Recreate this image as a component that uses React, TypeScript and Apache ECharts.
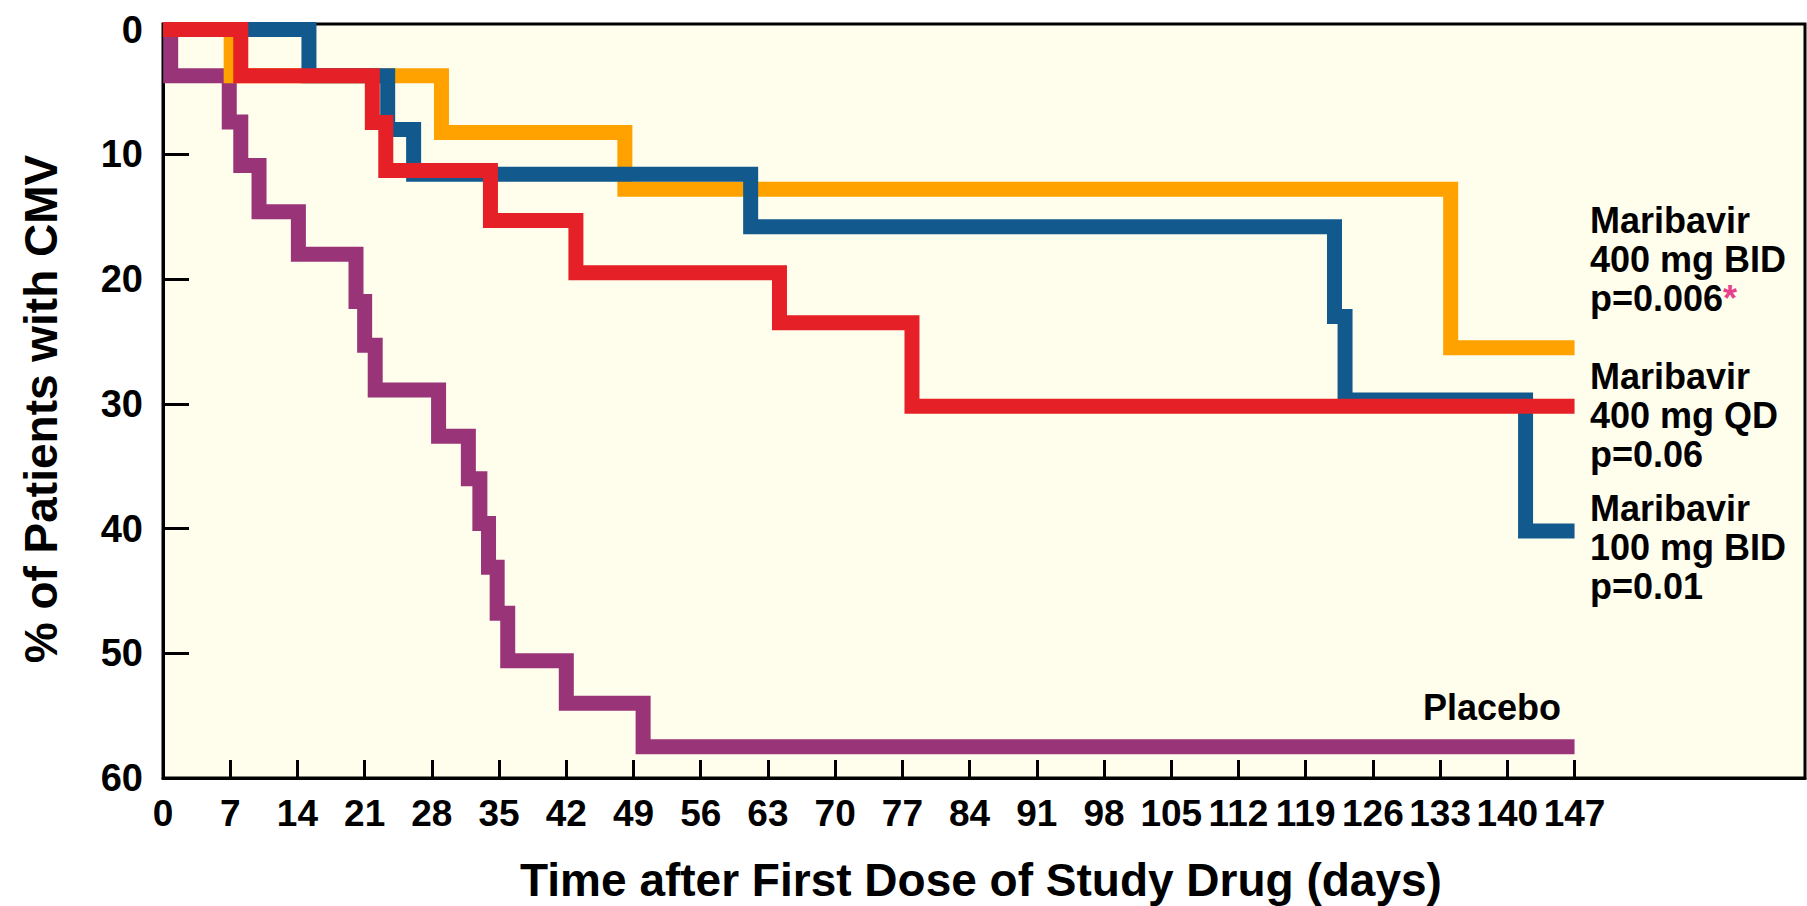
import React, { useEffect, useRef } from "react";
import * as echarts from "echarts";

// Axis ticks / labels
const dayTicks = [0, 7, 14, 21, 28, 35, 42, 49, 56, 63, 70, 77, 84, 91, 98, 105, 112, 119, 126, 133, 140, 147];
const pctLabels = [0, 10, 20, 30, 40, 50, 60];
const pctTicks = [10, 20, 30, 40, 50];

// Kaplan-Meier steps (day of change, % of patients with CMV from that day on)
const placeboDays = [0, 0.8, 6.9, 8.1, 10.0, 14.1, 20.1, 21.0, 22.1, 28.7, 31.8, 33.0, 33.9, 34.8, 35.9, 42.0, 50.0, 147];
const placeboPct = [0, 3.7, 7.4, 10.9, 14.6, 18.0, 21.8, 25.3, 28.9, 32.6, 36.0, 39.6, 43.1, 46.8, 50.6, 54.0, 57.5, 57.5];

const bid400Days = [0, 7.1, 29.0, 48.1, 134.1, 147];
const bid400Pct = [0, 3.7, 8.25, 12.8, 25.5, 25.5];

const bid100Days = [0, 15.2, 23.4, 26.1, 61.2, 122.0, 123.1, 141.9, 147];
const bid100Pct = [0, 3.7, 8.0, 11.6, 15.8, 23.0, 29.7, 40.2, 40.2];

const qd400Days = [0, 8.1, 21.8, 23.2, 34.1, 43.0, 64.2, 78.0, 147];
const qd400Pct = [0, 3.7, 7.45, 11.3, 15.3, 19.5, 23.5, 30.2, 30.2];

const seriesNames = ["Placebo", "Maribavir 400 mg BID", "Maribavir 100 mg BID", "Maribavir 400 mg QD"];
const seriesColors = ["#9A3479", "#FFA200", "#125A8E", "#E52127"];

const zip = (xs: number[], ys: number[]) => xs.map((x, i) => [x, ys[i]]);

const BOLD = "bold";
const SANS = '"Liberation Sans", Arial, Helvetica, sans-serif';

export default function App() {
  const ref = useRef<HTMLDivElement>(null);

  useEffect(() => {
    if (!ref.current) return;
    const chart = echarts.init(ref.current, undefined, { renderer: "svg" });

    const datasets = [
      zip(placeboDays, placeboPct),
      zip(bid400Days, bid400Pct),
      zip(bid100Days, bid100Pct),
      zip(qd400Days, qd400Pct),
    ];

    const labelStyle = {
      fill: "#000",
      fontFamily: SANS,
      fontWeight: BOLD,
      fontSize: 36,
      lineHeight: 39,
    };

    chart.setOption({
      animation: false,
      grid: {
        left: 163,
        top: 24,
        right: 2,
        bottom: 128,
        show: true,
        backgroundColor: "#FFFDEB",
        borderColor: "#000",
        borderWidth: 3,
      },
      xAxis: {
        type: "value",
        min: 0,
        max: 171,
        axisLine: { show: true, onZero: false, lineStyle: { color: "#000", width: 3 } },
        axisTick: {
          show: true,
          inside: true,
          length: 18,
          customValues: dayTicks.slice(1),
          lineStyle: { color: "#000", width: 3 },
        },
        axisLabel: {
          customValues: dayTicks,
          fontFamily: SANS,
          fontWeight: BOLD,
          fontSize: 37,
          lineHeight: 40,
          color: "#000",
          margin: 15,
          hideOverlap: false,
        },
        splitLine: { show: false },
      },
      yAxis: {
        type: "value",
        inverse: true,
        min: -0.45,
        max: 60,
        axisLine: { show: true, onZero: false, lineStyle: { color: "#000", width: 3 } },
        axisTick: {
          show: true,
          inside: true,
          length: 26,
          customValues: pctTicks,
          lineStyle: { color: "#000", width: 3 },
        },
        axisLabel: {
          customValues: pctLabels,
          fontFamily: SANS,
          fontWeight: BOLD,
          fontSize: 38,
          color: "#000",
          margin: 20,
        },
        splitLine: { show: false },
      },
      series: datasets.map((d, i) => ({
        name: seriesNames[i],
        type: "line",
        step: "end",
        data: d,
        showSymbol: false,
        symbol: "none",
        clip: false,
        z: 2 + i,
        lineStyle: { color: seriesColors[i], width: 15, cap: "butt", join: "miter" },
      })),
      graphic: [
        {
          type: "text",
          x: 41,
          y: 409,
          rotation: Math.PI / 2,
          style: {
            text: "% of Patients with CMV",
            fill: "#000",
            fontFamily: SANS,
            fontWeight: BOLD,
            fontSize: 46,
            textAlign: "center",
            textVerticalAlign: "middle",
          },
        },
        {
          type: "text",
          x: 981,
          y: 880,
          style: {
            text: "Time after First Dose of Study Drug (days)",
            fill: "#000",
            fontFamily: SANS,
            fontWeight: BOLD,
            fontSize: 46,
            textAlign: "center",
            textVerticalAlign: "middle",
          },
        },
        {
          type: "text",
          x: 1590,
          y: 259,
          z: 10,
          style: {
            ...labelStyle,
            text: "Maribavir\n400 mg BID\np=0.006{s|*}",
            textAlign: "left",
            textVerticalAlign: "middle",
            rich: {
              s: { fill: "#E8408C", fontFamily: SANS, fontWeight: BOLD, fontSize: 36, lineHeight: 39 },
            },
          },
        },
        {
          type: "text",
          x: 1590,
          y: 415,
          z: 10,
          style: {
            ...labelStyle,
            text: "Maribavir\n400 mg QD\np=0.06",
            textAlign: "left",
            textVerticalAlign: "middle",
          },
        },
        {
          type: "text",
          x: 1590,
          y: 547,
          z: 10,
          style: {
            ...labelStyle,
            text: "Maribavir\n100 mg BID\np=0.01",
            textAlign: "left",
            textVerticalAlign: "middle",
          },
        },
        {
          type: "text",
          x: 1561,
          y: 707,
          z: 10,
          style: {
            ...labelStyle,
            text: "Placebo",
            textAlign: "right",
            textVerticalAlign: "middle",
          },
        },
      ],
    });

    return () => chart.dispose();
  }, []);

  return (
    <div
      ref={ref}
      style={{ position: "fixed", left: 0, top: 0, width: 1807, height: 906, background: "#fff" }}
    />
  );
}
